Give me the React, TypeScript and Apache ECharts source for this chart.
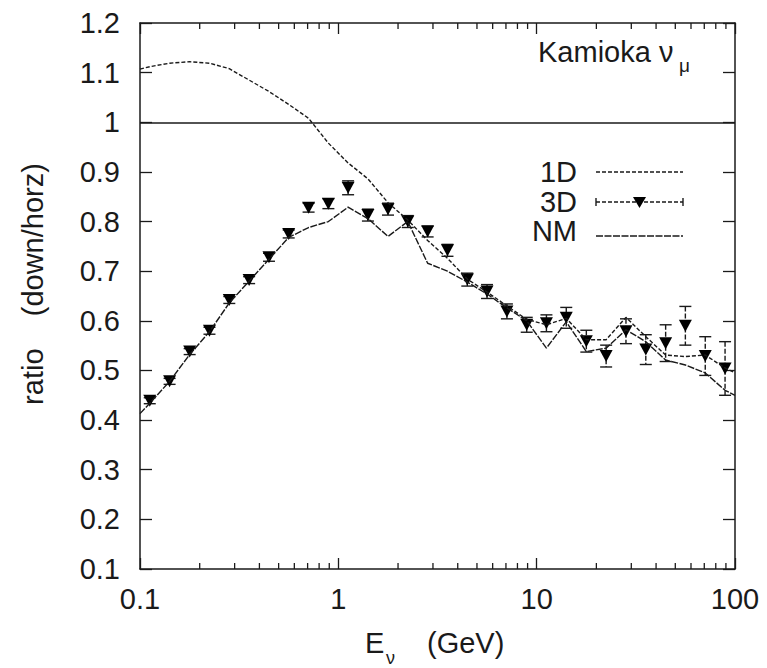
import React, { useEffect, useRef } from 'react';
import * as echarts from 'echarts';

// ---- data ----
const energies = [0.112, 0.141, 0.178, 0.224, 0.282, 0.355, 0.447, 0.562, 0.708, 0.891, 1.12, 1.41, 1.78, 2.24, 2.82, 3.55, 4.47, 5.62, 7.08, 8.91, 11.2, 14.1, 17.8, 22.4, 28.2, 35.5, 44.7, 56.2, 70.8, 89.1];
const ratio3D = [0.439, 0.478, 0.538, 0.580, 0.642, 0.682, 0.728, 0.775, 0.828, 0.836, 0.868, 0.813, 0.825, 0.800, 0.780, 0.742, 0.683, 0.659, 0.619, 0.592, 0.595, 0.606, 0.559, 0.529, 0.579, 0.542, 0.555, 0.590, 0.529, 0.504];
const err3D = [0.006, 0.006, 0.006, 0.007, 0.007, 0.007, 0.008, 0.008, 0.009, 0.01, 0.014, 0.012, 0.012, 0.012, 0.011, 0.012, 0.013, 0.014, 0.015, 0.015, 0.017, 0.021, 0.022, 0.022, 0.025, 0.03, 0.037, 0.039, 0.039, 0.054];

const energiesLine = [0.1, 0.112, 0.141, 0.178, 0.224, 0.282, 0.355, 0.447, 0.562, 0.708, 0.891, 1.12, 1.41, 1.78, 2.24, 2.82, 3.55, 4.47, 5.62, 7.08, 8.91, 11.2, 14.1, 17.8, 22.4, 28.2, 35.5, 44.7, 56.2, 70.8, 89.1, 100];
const ratio1D = [1.107, 1.112, 1.119, 1.122, 1.119, 1.108, 1.085, 1.062, 1.036, 1.008, 0.958, 0.918, 0.886, 0.838, 0.803, 0.762, 0.726, 0.684, 0.658, 0.630, 0.603, 0.592, 0.605, 0.562, 0.562, 0.607, 0.568, 0.531, 0.528, 0.531, 0.505, 0.495];
const ratioNM = [0.413, 0.434, 0.478, 0.532, 0.578, 0.636, 0.680, 0.724, 0.768, 0.788, 0.800, 0.829, 0.806, 0.770, 0.800, 0.716, 0.700, 0.678, 0.654, 0.626, 0.600, 0.545, 0.598, 0.538, 0.545, 0.582, 0.558, 0.521, 0.511, 0.495, 0.460, 0.450];

const referenceRatio = 1;
const xMin = 0.1;
const xMax = 100;
const yMin = 0.1;
const yMax = 1.2;
const yStep = 0.1;
const xMinorTicks = [0.2, 0.3, 0.4, 0.5, 0.6, 0.7, 0.8, 0.9, 2, 3, 4, 5, 6, 7, 8, 9, 20, 30, 40, 50, 60, 70, 80, 90];

const FONT = '"Liberation Sans", Arial, Helvetica, sans-serif';
const INK = '#1a1a1a';

export default function App() {
  const ref = useRef<HTMLDivElement>(null);

  useEffect(() => {
    if (!ref.current) return;
    const chart = echarts.init(ref.current, null, { renderer: 'svg' });

    const axisLine = { show: true, lineStyle: { color: INK, width: 1.5 } };

    const option: any = {
      animation: false,
      backgroundColor: '#fff',
      grid: { left: 140, right: 32, top: 23, bottom: 99, containLabel: false },
      xAxis: [
        {
          type: 'log', logBase: 10, min: xMin, max: xMax, position: 'bottom',
          axisLine, splitLine: { show: false },
          axisTick: { show: true, inside: true, length: 11, lineStyle: { color: INK, width: 1.3 } },
          axisLabel: { fontSize: 29, fontFamily: FONT, color: INK, margin: 15, formatter: (v: number) => String(Number(v.toPrecision(3))) },
        },
        {
          type: 'log', logBase: 10, min: xMin, max: xMax, position: 'top',
          axisLine, splitLine: { show: false },
          axisTick: { show: true, inside: true, length: 11, lineStyle: { color: INK, width: 1.3 } },
          axisLabel: { show: false },
        },
      ],
      yAxis: [
        {
          type: 'value', min: yMin, max: yMax, interval: yStep, position: 'left',
          axisLine, splitLine: { show: false },
          axisTick: { show: true, inside: true, length: 12, lineStyle: { color: INK, width: 1.3 } },
          axisLabel: { fontSize: 29, fontFamily: FONT, color: INK, margin: 20 },
        },
        {
          type: 'value', min: yMin, max: yMax, interval: yStep, position: 'right',
          axisLine, splitLine: { show: false },
          axisTick: { show: true, inside: true, length: 12, lineStyle: { color: INK, width: 1.3 } },
          axisLabel: { show: false },
        },
      ],
      series: [
        {
          name: '1D', type: 'line', xAxisIndex: 0, yAxisIndex: 0,
          data: energiesLine.map((e, i) => [e, ratio1D[i]]),
          showSymbol: false, symbol: 'none',
          lineStyle: { color: INK, width: 1.4, type: [4, 2] },
          markLine: {
            silent: true, symbol: 'none', label: { show: false },
            lineStyle: { color: INK, width: 1.5, type: 'solid' },
            data: [{ yAxis: referenceRatio }],
          },
        },
        {
          name: 'NM', type: 'line', xAxisIndex: 0, yAxisIndex: 0,
          data: energiesLine.map((e, i) => [e, ratioNM[i]]),
          showSymbol: false, symbol: 'none',
          lineStyle: { color: INK, width: 1.4, type: [7, 1.5] },
        },
        {
          name: '3D errors', type: 'custom', xAxisIndex: 0, yAxisIndex: 0,
          data: energies.map((e, i) => [e, ratio3D[i], err3D[i]]),
          encode: { x: 0, y: 1 },
          renderItem: (params: any, api: any) => {
            const e = api.value(0);
            const v = api.value(1);
            const d = api.value(2);
            const top = api.coord([e, v + d]);
            const bot = api.coord([e, v - d]);
            const hw = 6;
            const st = { stroke: INK, lineWidth: 1.4 };
            return {
              type: 'group',
              children: [
                { type: 'line', shape: { x1: top[0], y1: top[1], x2: bot[0], y2: bot[1] }, style: { ...st, lineDash: d > 0.02 ? [5, 2] : null } },
                { type: 'line', shape: { x1: top[0] - hw, y1: top[1], x2: top[0] + hw, y2: top[1] }, style: st },
                { type: 'line', shape: { x1: bot[0] - hw, y1: bot[1], x2: bot[0] + hw, y2: bot[1] }, style: st },
              ],
            };
          },
        },
        {
          name: '3D', type: 'scatter', xAxisIndex: 0, yAxisIndex: 0,
          data: energies.map((e, i) => [e, ratio3D[i]]),
          symbol: 'triangle', symbolRotate: 180, symbolSize: [13, 12],
          itemStyle: { color: '#000', opacity: 1 },
        },
        {
          name: 'minor ticks', type: 'custom', xAxisIndex: 0, yAxisIndex: 0,
          data: xMinorTicks.map((t) => [t, yMin]),
          encode: { x: 0, y: 1 },
          clip: false,
          renderItem: (params: any, api: any) => {
            const p = api.coord([api.value(0), yMin]);
            const cs = params.coordSys;
            const yb = cs.y + cs.height;
            const yt = cs.y;
            const len = 6;
            const st = { stroke: INK, lineWidth: 1.3 };
            return {
              type: 'group',
              children: [
                { type: 'line', shape: { x1: p[0], y1: yb, x2: p[0], y2: yb - len }, style: st },
                { type: 'line', shape: { x1: p[0], y1: yt, x2: p[0], y2: yt + len }, style: st },
              ],
            };
          },
        },
      ],
      graphic: [
        // y-axis title
        {
          type: 'text', x: 33, y: 284, rotation: Math.PI / 2,
          style: { text: 'ratio    (down/horz)', fontSize: 29, fontFamily: FONT, fill: INK, align: 'center', verticalAlign: 'middle' },
        },
        // x-axis title
        { type: 'text', x: 365, y: 643, style: { text: 'E', fontSize: 29, fontFamily: FONT, fill: INK, align: 'left', verticalAlign: 'middle' } },
        { type: 'text', x: 386, y: 658, style: { text: 'ν', fontSize: 18, fontFamily: FONT, fill: INK, align: 'left', verticalAlign: 'middle' } },
        { type: 'text', x: 427, y: 643, style: { text: '(GeV)', fontSize: 29, fontFamily: FONT, fill: INK, align: 'left', verticalAlign: 'middle' } },
        // annotation
        { type: 'text', x: 538, y: 52, style: { text: 'Kamioka ν', fontSize: 29, fontFamily: FONT, fill: INK, align: 'left', verticalAlign: 'middle' } },
        { type: 'text', x: 679, y: 65, style: { text: 'μ', fontSize: 19, fontFamily: FONT, fill: INK, align: 'left', verticalAlign: 'middle' } },
        // legend
        { type: 'text', x: 577, y: 172, style: { text: '1D', fontSize: 29, fontFamily: FONT, fill: INK, align: 'right', verticalAlign: 'middle' } },
        { type: 'text', x: 577, y: 202, style: { text: '3D', fontSize: 29, fontFamily: FONT, fill: INK, align: 'right', verticalAlign: 'middle' } },
        { type: 'text', x: 577, y: 231, style: { text: 'NM', fontSize: 29, fontFamily: FONT, fill: INK, align: 'right', verticalAlign: 'middle' } },
        { type: 'line', shape: { x1: 596, y1: 172, x2: 683, y2: 172 }, style: { stroke: INK, lineWidth: 1.4, lineDash: [4, 2] } },
        { type: 'line', shape: { x1: 596, y1: 202, x2: 683, y2: 202 }, style: { stroke: INK, lineWidth: 1.4, lineDash: [4, 2] } },
        { type: 'line', shape: { x1: 596, y1: 198, x2: 596, y2: 206 }, style: { stroke: INK, lineWidth: 1.4 } },
        { type: 'line', shape: { x1: 683, y1: 198, x2: 683, y2: 206 }, style: { stroke: INK, lineWidth: 1.4 } },
        { type: 'polygon', shape: { points: [[633, 197], [646, 197], [639.5, 208]] }, style: { fill: '#000' } },
        { type: 'line', shape: { x1: 596, y1: 236, x2: 683, y2: 236 }, style: { stroke: INK, lineWidth: 1.4, lineDash: [7, 1.5] } },
      ],
    };

    chart.setOption(option);
    return () => chart.dispose();
  }, []);

  return (
    <div
      ref={ref}
      style={{ position: 'absolute', left: 0, top: 0, width: 767, height: 668, background: '#fff' }}
    />
  );
}
